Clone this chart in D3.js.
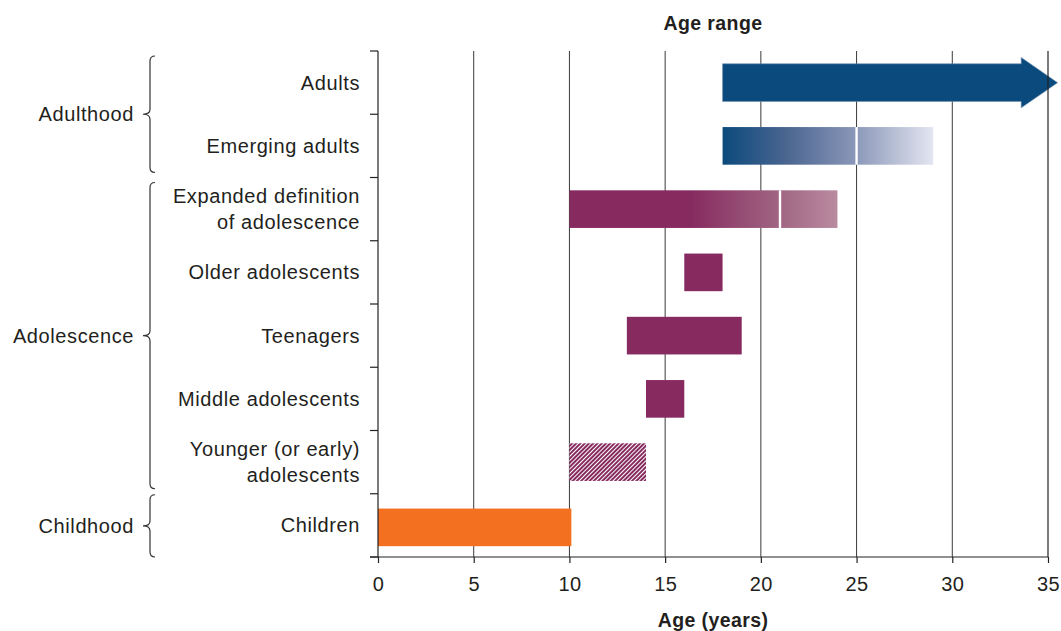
<!DOCTYPE html>
<html>
<head>
<meta charset="utf-8">
<script src="https://cdn.jsdelivr.net/npm/d3@7/dist/d3.min.js"></script>
<style>
  html, body { margin: 0; padding: 0; background: #fff; }
  svg { display: block; font-family: "Liberation Sans", Arial, Helvetica, sans-serif; }
</style>
</head>
<body>
<svg id="chart" width="1061" height="631"></svg>
<script>
// ---- data ----
const categories = [
  "Adults",
  "Emerging adults",
  "Expanded definition of adolescence",
  "Older adolescents",
  "Teenagers",
  "Middle adolescents",
  "Younger (or early) adolescents",
  "Children"
];
const labelLines = [
  ["Adults"],
  ["Emerging adults"],
  ["Expanded definition", "of adolescence"],
  ["Older adolescents"],
  ["Teenagers"],
  ["Middle adolescents"],
  ["Younger (or early)", "adolescents"],
  ["Children"]
];
const startAges = [18, 18, 10, 16, 13, 14, 10, 0];
const endAges   = [35.5, 29, 24, 18, 19, 16, 14, 10.1];
const arrowHeadStart = 33.6;          // where the Adults arrow head begins
const dividerAges = [null, 25, 21, null, null, null, null, null];
const barStyles = ["arrow", "gradBlue", "gradPurple", "solid", "solid", "solid", "hatch", "orange"];

const groups = ["Adulthood", "Adolescence", "Childhood"];
const groupFirst = ["Adults", "Expanded definition of adolescence", "Children"];
const groupLast  = ["Emerging adults", "Younger (or early) adolescents", "Children"];

const xTicks = [0, 5, 10, 15, 20, 25, 30, 35];
const xTitle = "Age (years)";
const topTitle = "Age range";

// ---- colours ----
const BLUE = "#0a4a7c";
const PURPLE = "#862a5f";
const ORANGE = "#f37021";
const TEXT = "#231f20";
const GRID = "#3a3a3a";

// ---- layout ----
const svg = d3.select("#chart");
const x = d3.scaleLinear().domain([0, 35]).range([378, 1048]);
const y = d3.scaleBand().domain(categories).range([51, 557]).padding(0);
const barFrac = 0.595;
const bh = y.bandwidth() * barFrac;
const barY = (c, i) => y(c) + (y.bandwidth() - bh) / 2 + (barStyles[i] === "orange" ? 2 : 0);

const defs = svg.append("defs");

// gradients
const gB = defs.append("linearGradient").attr("id", "gradBlue")
  .attr("gradientUnits", "userSpaceOnUse")
  .attr("x1", x(18)).attr("x2", x(29)).attr("y1", 0).attr("y2", 0);
[[0, "#0b4a7c"], [0.3, "#4a6590"], [0.63, "#8a97b8"], [1, "#e3e5f1"]]
  .forEach(([o, c]) => gB.append("stop").attr("offset", o).attr("stop-color", c));

const gP = defs.append("linearGradient").attr("id", "gradPurple")
  .attr("gradientUnits", "userSpaceOnUse")
  .attr("x1", x(10)).attr("x2", x(24)).attr("y1", 0).attr("y2", 0);
[[0, PURPLE], [0.45, PURPLE], [0.56, "#8f3e6b"], [0.79, "#a16683"], [1, "#b98ba0"]]
  .forEach(([o, c]) => gP.append("stop").attr("offset", o).attr("stop-color", c));

// hatch pattern
const pat = defs.append("pattern").attr("id", "hatch")
  .attr("patternUnits", "userSpaceOnUse")
  .attr("width", 3).attr("height", 6)
  .attr("patternTransform", "rotate(45)");
pat.append("rect").attr("width", 3).attr("height", 6).attr("fill", "#fff");
pat.append("rect").attr("width", 2.0).attr("height", 6).attr("fill", PURPLE);

// ---- grid lines (behind bars) ----
svg.append("g").selectAll("line")
  .data(xTicks.filter(t => t > 0 && t < 35))
  .join("line")
  .attr("x1", d => x(d)).attr("x2", d => x(d))
  .attr("y1", 51).attr("y2", 557)
  .attr("stroke", GRID).attr("stroke-width", 1);

// ---- bars ----
const bars = svg.append("g");
categories.forEach((c, i) => {
  const s = barStyles[i];
  const y0 = barY(c, i);
  if (s === "arrow") {
    const yc = y(c) + y.bandwidth() / 2;
    const headH = bh * 1.34;
    const p = d3.path();
    p.moveTo(x(startAges[i]), y0);
    p.lineTo(x(arrowHeadStart), y0);
    p.lineTo(x(arrowHeadStart), yc - headH / 2);
    p.lineTo(x(endAges[i]), yc);
    p.lineTo(x(arrowHeadStart), yc + headH / 2);
    p.lineTo(x(arrowHeadStart), y0 + bh);
    p.lineTo(x(startAges[i]), y0 + bh);
    p.closePath();
    bars.append("path").attr("d", p.toString())
      .attr("fill", BLUE).attr("stroke", "#6f8fae").attr("stroke-width", 0.6);
    return;
  }
  let fill = PURPLE;
  if (s === "gradBlue") fill = "url(#gradBlue)";
  else if (s === "gradPurple") fill = "url(#gradPurple)";
  else if (s === "hatch") fill = "url(#hatch)";
  else if (s === "orange") fill = ORANGE;
  bars.append("rect")
    .attr("x", x(startAges[i])).attr("y", y0)
    .attr("width", x(endAges[i]) - x(startAges[i])).attr("height", bh)
    .attr("fill", fill);
  if (dividerAges[i] !== null) {
    bars.append("line")
      .attr("x1", x(dividerAges[i])).attr("x2", x(dividerAges[i]))
      .attr("y1", y0).attr("y2", y0 + bh)
      .attr("stroke", "#fff").attr("stroke-width", 2.4);
  }
});

// right border at 35 (drawn on top)
svg.append("line")
  .attr("x1", x(35)).attr("x2", x(35)).attr("y1", 51).attr("y2", 557)
  .attr("stroke", "#222").attr("stroke-width", 1.2);

// ---- y axis (row boundaries) ----
const yAx = svg.append("g");
yAx.append("line").attr("x1", x(0)).attr("x2", x(0)).attr("y1", 51).attr("y2", 557)
  .attr("stroke", "#222").attr("stroke-width", 1.2);
const bounds = categories.map(c => y(c)).concat([y.range()[1]]);
yAx.selectAll("line.tk").data(bounds).join("line").attr("class", "tk")
  .attr("x1", x(0) - 8).attr("x2", x(0))
  .attr("y1", d => d).attr("y2", d => d)
  .attr("stroke", "#222").attr("stroke-width", 1.2);

// ---- x axis ----
const xAxis = d3.axisBottom(x).tickValues(xTicks).tickSize(6).tickPadding(14).tickFormat(d3.format("d"));
const gx = svg.append("g").attr("transform", "translate(0,557)").call(xAxis);
gx.select(".domain").remove();
gx.append("line").attr("x1", x(0) - 8).attr("x2", x(35)).attr("y1", 0).attr("y2", 0)
  .attr("stroke", "#222").attr("stroke-width", 1.2);
gx.selectAll(".tick line").attr("stroke", "#222").attr("stroke-width", 1.2);
gx.selectAll(".tick text")
  .attr("fill", TEXT).attr("font-size", 20).attr("font-family", "Liberation Sans, Arial, sans-serif")
  .attr("letter-spacing", 0.4);

svg.append("text").text(xTitle)
  .attr("x", (x(10) + x(25)) / 2).attr("y", 627)
  .attr("text-anchor", "middle").attr("font-weight", "bold").attr("font-size", 19.5)
  .attr("letter-spacing", 0.4).attr("fill", TEXT);

svg.append("text").text(topTitle)
  .attr("x", (x(10) + x(25)) / 2).attr("y", 30)
  .attr("text-anchor", "middle").attr("font-weight", "bold").attr("font-size", 19.5)
  .attr("letter-spacing", 0.4).attr("fill", TEXT);

// ---- category labels ----
const lab = svg.append("g").attr("fill", TEXT).attr("font-size", 20).attr("letter-spacing", 0.6);
categories.forEach((c, i) => {
  const yc = y(c) + y.bandwidth() / 2;
  const lines = labelLines[i];
  const lh = 26;
  lines.forEach((t, j) => {
    lab.append("text").text(t)
      .attr("x", 360).attr("y", yc + (j - (lines.length - 1) / 2) * lh)
      .attr("dy", "0.35em").attr("text-anchor", "end");
  });
});

// ---- group braces ----
const br = svg.append("g");
const bx = 150, pad = 5, curl = 5, tipX = 143;
groups.forEach((g, i) => {
  const top = y(groupFirst[i]) + pad;
  const bot = y(groupLast[i]) + y.bandwidth() - (i === 2 ? 0 : pad);
  const t2 = (i === 2) ? y(groupFirst[i]) + 1 : top;
  const mid = (t2 + bot) / 2;
  const p = d3.path();
  p.moveTo(bx + curl, t2);
  p.quadraticCurveTo(bx, t2, bx, t2 + curl);
  p.lineTo(bx, mid - curl);
  p.quadraticCurveTo(bx, mid, tipX, mid);
  p.quadraticCurveTo(bx, mid, bx, mid + curl);
  p.lineTo(bx, bot - curl);
  p.quadraticCurveTo(bx, bot, bx + curl, bot);
  br.append("path").attr("d", p.toString())
    .attr("fill", "none").attr("stroke", "#333").attr("stroke-width", 1.2);
  br.append("text").text(g)
    .attr("x", 134).attr("y", mid).attr("dy", "0.35em")
    .attr("text-anchor", "end").attr("fill", TEXT)
    .attr("font-size", 20).attr("letter-spacing", 0.6);
});
</script>
</body>
</html>
